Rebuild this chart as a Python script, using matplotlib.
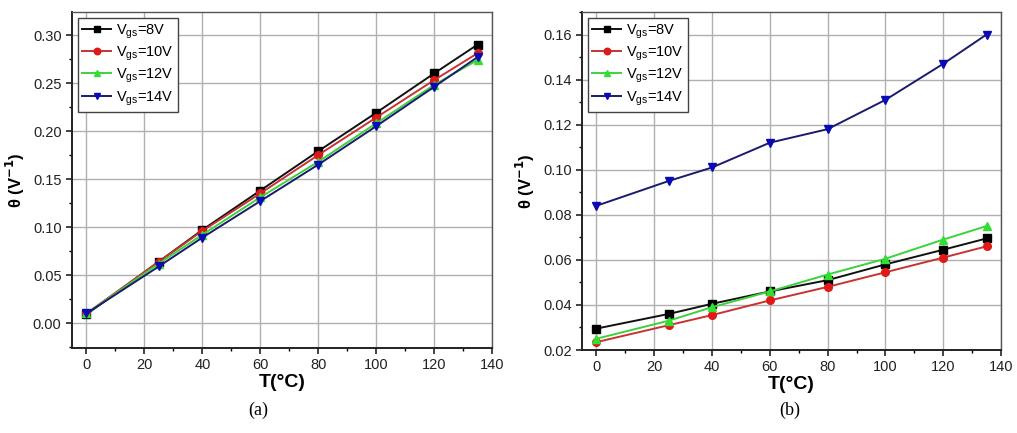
import matplotlib
matplotlib.use("Agg")
import matplotlib.pyplot as plt
from matplotlib.ticker import MultipleLocator, AutoMinorLocator, FormatStrFormatter

plt.rcParams['font.family'] = ['Liberation Sans', 'DejaVu Sans']
plt.rcParams['mathtext.fontset'] = 'custom'
plt.rcParams['mathtext.rm'] = 'Liberation Sans'

T = [0, 25, 40, 60, 80, 100, 120, 135]
labels = ["V$_{\\mathrm{gs}}$=8V", "V$_{\\mathrm{gs}}$=10V",
          "V$_{\\mathrm{gs}}$=12V", "V$_{\\mathrm{gs}}$=14V"]

# panel (a)
a_8 = [0.009, 0.064, 0.097, 0.138, 0.179, 0.219, 0.260, 0.290]
a_10 = [0.010, 0.064, 0.096, 0.135, 0.175, 0.214, 0.253, 0.281]
a_12 = [0.010, 0.062, 0.092, 0.131, 0.168, 0.208, 0.248, 0.274]
a_14 = [0.010, 0.059, 0.089, 0.127, 0.165, 0.205, 0.246, 0.277]

# panel (b)
b_8 = [0.0295, 0.036, 0.0405, 0.046, 0.051, 0.058, 0.0645, 0.0695]
b_10 = [0.0235, 0.031, 0.0355, 0.042, 0.048, 0.0545, 0.061, 0.066]
b_12 = [0.025, 0.033, 0.039, 0.046, 0.0535, 0.0605, 0.069, 0.075]
b_14 = [0.084, 0.095, 0.101, 0.112, 0.118, 0.131, 0.147, 0.160]

line_colors = ['#111111', '#c83232', '#3cd23c', '#1a1a6e']
marker_colors = ['#000000', '#e01818', '#30e030', '#0a0ab4']
markers = ['s', 'o', '^', 'v']

fig = plt.figure(figsize=(10.17, 4.33), dpi=100)
axA = fig.add_axes([72/1017, 1-348/433, 420/1017, 336/433])
axB = fig.add_axes([582/1017, 1-350/433, 419/1017, 338/433])


def draw(ax, series, ylim, ymajor):
    for ys, lc, mc, mk, lab in zip(series, line_colors, marker_colors, markers, labels):
        ax.plot(T, ys, color=lc, lw=1.4, marker=mk, markersize=5.5,
                markerfacecolor=mc, markeredgecolor=mc, label=lab)
    ax.set_xlim(-5, 140)
    ax.set_ylim(*ylim)
    ax.xaxis.set_major_locator(MultipleLocator(20))
    ax.xaxis.set_minor_locator(MultipleLocator(10))
    ax.yaxis.set_major_locator(MultipleLocator(ymajor))
    ax.yaxis.set_minor_locator(AutoMinorLocator(2))
    ax.yaxis.set_major_formatter(FormatStrFormatter('%.2f'))
    ax.grid(True, which='major', color='#b0b0b0', lw=1.0)
    ax.set_axisbelow(True)
    ax.tick_params(which='major', direction='out', length=4, width=1.2, labelsize=10.5,
                   top=False, right=False, colors='#222222')
    ax.tick_params(which='minor', direction='out', length=2.5, width=1.0,
                   top=False, right=False)
    for s in ax.spines.values():
        s.set_linewidth(1.0)
        s.set_color('#555555')
    ax.spines['left'].set_color('#222222')
    ax.spines['bottom'].set_color('#222222')
    ax.spines['left'].set_linewidth(1.4)
    ax.spines['bottom'].set_linewidth(1.4)
    ax.set_xlabel("T(°C)", fontsize=14, fontweight='bold', labelpad=1)
    ax.set_ylabel("θ (V$^{\\mathbf{-1}}$)", fontsize=12, fontweight='bold', labelpad=4)
    leg = ax.legend(loc='upper left', fontsize=10.5, handlelength=2.0,
                    handletextpad=0.3, borderpad=0.3, labelspacing=0.25,
                    fancybox=False, edgecolor='#444444', framealpha=1,
                    borderaxespad=0.4, markerscale=0.85)
    leg.get_frame().set_linewidth(1.0)


draw(axA, [a_8, a_10, a_12, a_14], (-0.026, 0.324), 0.05)
draw(axB, [b_8, b_10, b_12, b_14], (0.02, 0.17), 0.02)

fig.text(258/1017, 1-410/433, "(a)", family='Liberation Serif', fontsize=13,
         ha='center', va='center')
fig.text(790/1017, 1-410/433, "(b)", family='Liberation Serif', fontsize=13,
         ha='center', va='center')

fig.savefig("out.png", dpi=100)
